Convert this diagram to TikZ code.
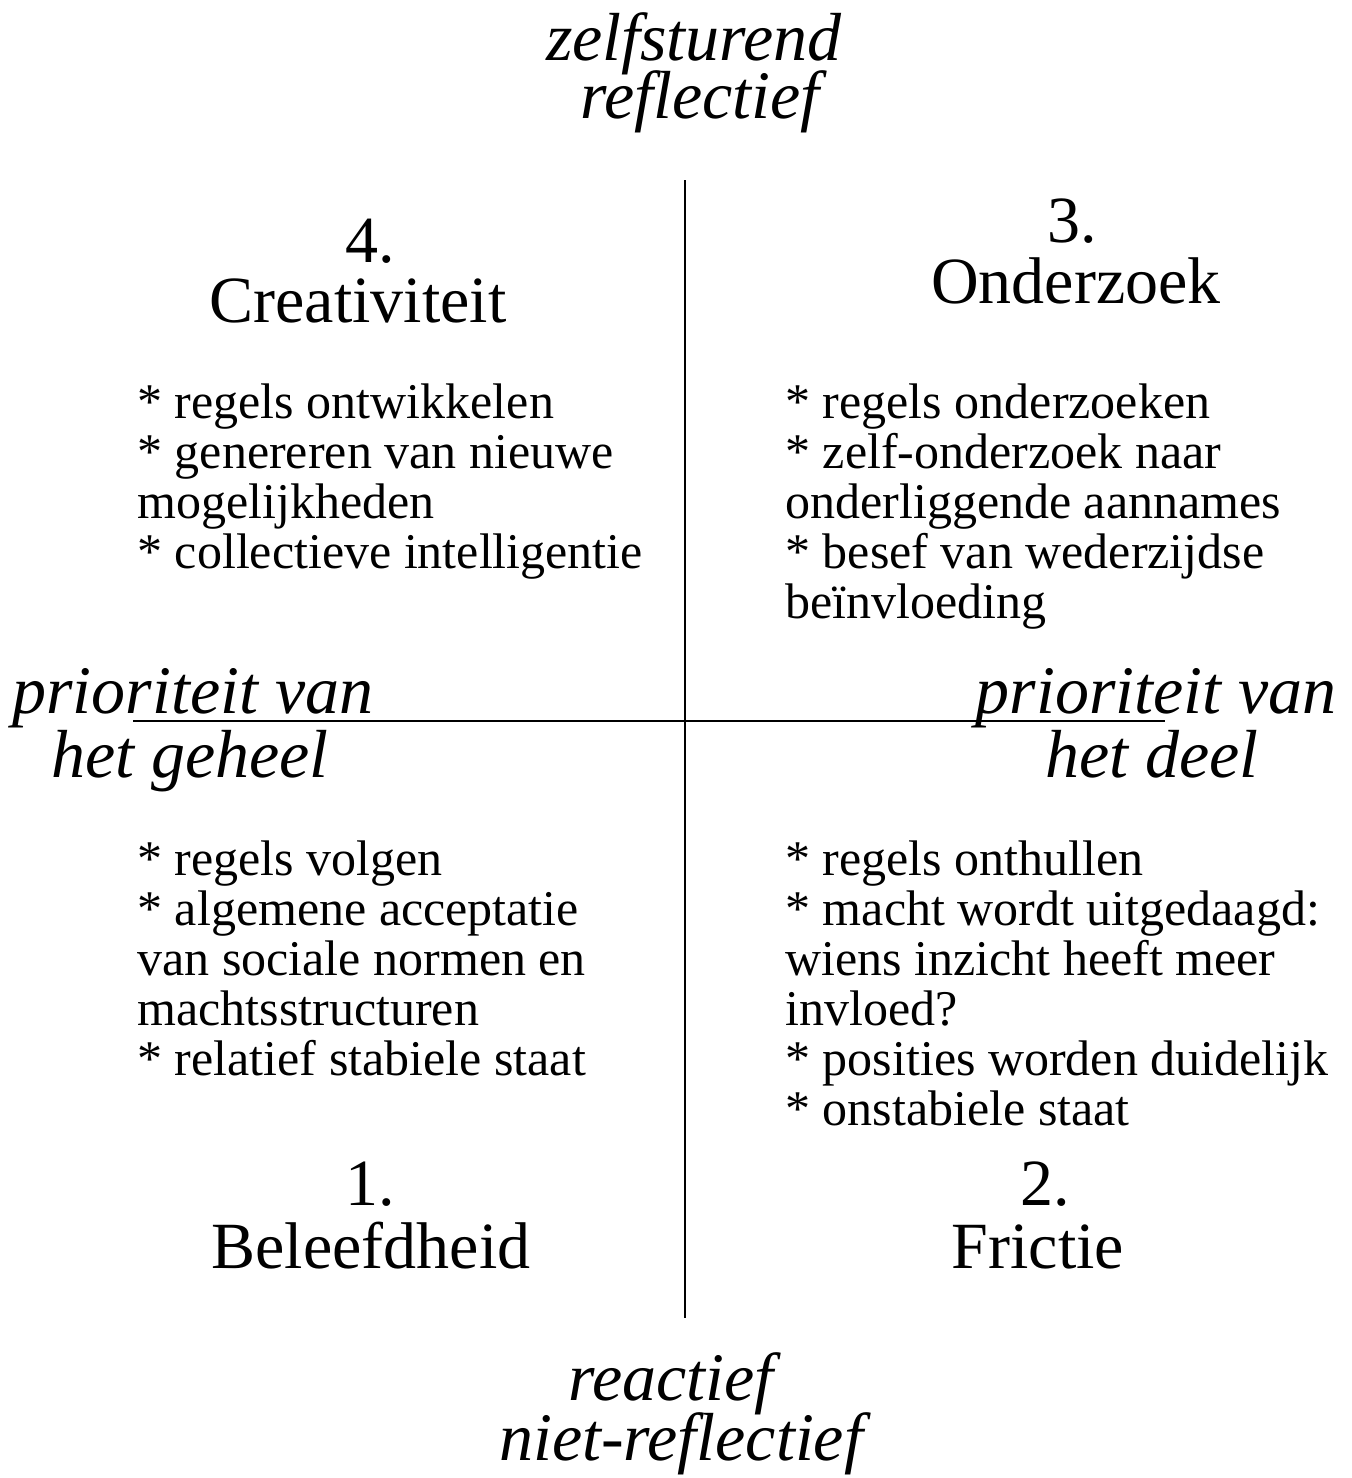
\documentclass[tikz,border=0pt]{standalone}
\usepackage{fontspec}
\setmainfont{Liberation Serif}
\begin{document}
\begin{tikzpicture}[x=0.5pt,y=-0.5pt]

      \useasboundingbox (0,0) rectangle (1351,1478);

      % axes
      \coordinate (vt) at (685,180);
      \coordinate (vb) at (685,1318);
      \coordinate (hl) at (133,721);
      \coordinate (hr) at (1165,721);
      \draw[line width=1pt] (vt) -- (vb);
      \draw[line width=1pt] (hl) -- (hr);

      % axis labels
      \begin{scope}[every node/.style={inner sep=0pt,anchor=base,font=\itshape\fontsize{34}{30}\selectfont}]
        \node (z1) at (694,60)   {zelfsturend};
        \node (z2) at (700,118)  {reflectief};
        \node (r1) at (671,1400) {reactief};
        \node (r2) at (681,1460) {niet-reflectief};
        \node[anchor=base west] (g1) at (12,713) {prioriteit van};
        \node (g2) at (190,777)  {het geheel};
        \node[anchor=base east] (d1) at (1337,713) {prioriteit van};
        \node (d2) at (1152,777) {het deel};
      \end{scope}

      % quadrant titles
      \begin{scope}[every node/.style={inner sep=0pt,anchor=base,font=\fontsize{33}{30}\selectfont}]
        \node (n4) at (370,262)  {4.};
        \node (t4) at (358,322)  {Creativiteit};
        \node (n3) at (1072,242) {3.};
        \node (t3) at (1076,303) {Onderzoek};
        \node (n1) at (370,1205) {1.};
        \node (t1) at (371,1268) {Beleefdheid};
        \node (n2) at (1045,1205) {2.};
        \node (t2) at (1038,1268) {Frictie};
      \end{scope}

      % quadrant lists (anchored at the baseline of their last line)
      \begin{scope}[every node/.style={inner sep=0pt,anchor=base west,align=left,font=\fontsize{25}{25}\selectfont}]
        \node (l4) at (137,568)  {* regels ontwikkelen\\* genereren van nieuwe\\mogelijkheden\\* collectieve intelligentie};
        \node (l3) at (785,618)  {* regels onderzoeken\\* zelf-onderzoek naar\\onderliggende aannames\\* besef van wederzijdse\\beïnvloeding};
        \node (l1) at (137,1075) {* regels volgen\\* algemene acceptatie\\van sociale normen en\\machtsstructuren\\* relatief stabiele staat};
        \node (l2) at (785,1125) {* regels onthullen\\* macht wordt uitgedaagd:\\wiens inzicht heeft meer\\invloed?\\* posities worden duidelijk\\* onstabiele staat};
      \end{scope}

    \end{tikzpicture}
\end{document}
